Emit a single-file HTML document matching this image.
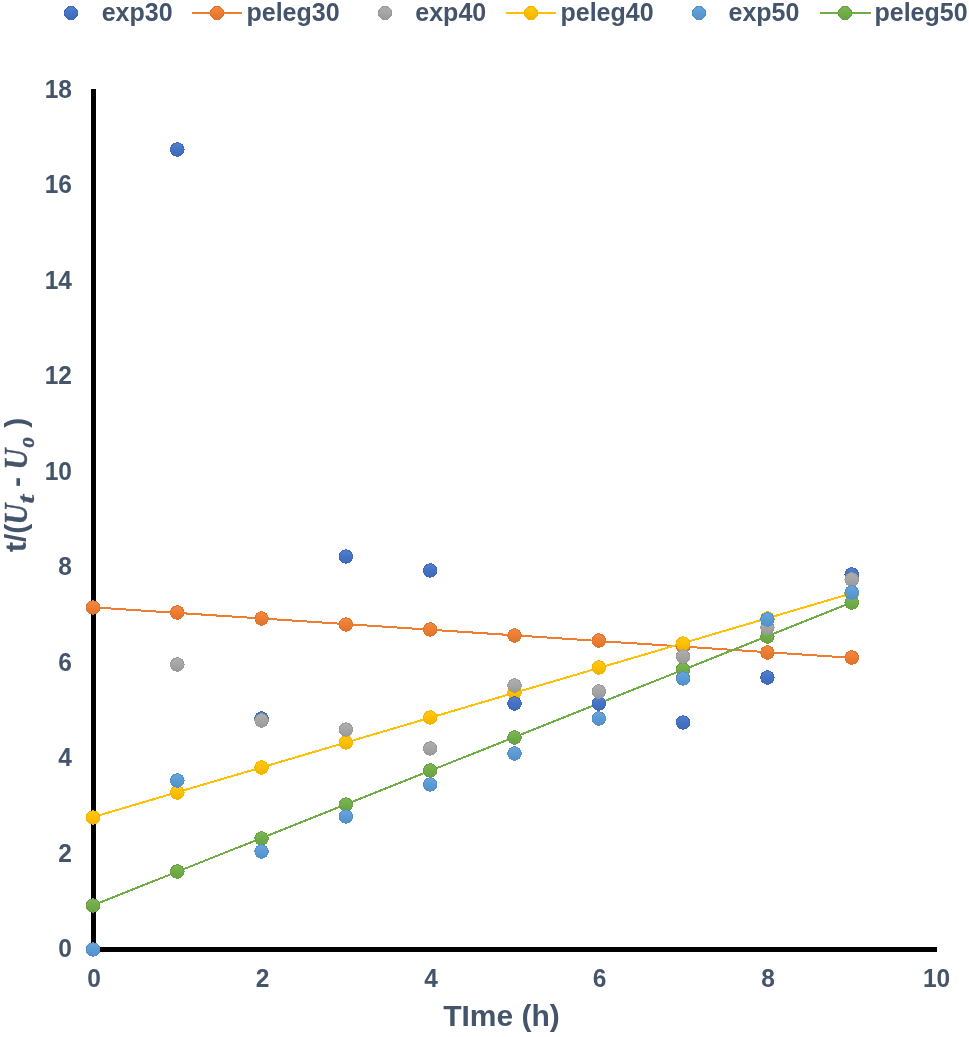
<!DOCTYPE html>
<html><head><meta charset="utf-8"><title>Chart</title>
<style>
html,body{margin:0;padding:0;background:#fff;}
body{width:969px;height:1037px;overflow:hidden;}
svg{display:block;}
.t{font-family:"Liberation Sans",Arial,sans-serif;font-weight:bold;fill:#44546A;}
.m{font-family:"Liberation Serif","Times New Roman",serif;font-weight:bold;font-style:italic;stroke:#44546A;stroke-width:0.4px;}
</style></head>
<body>
<svg width="969" height="1037" viewBox="0 0 969 1037">
<defs><linearGradient id="g_exp30" x1="0" y1="0" x2="0" y2="1"><stop offset="0" stop-color="#5780CA"/><stop offset="0.5" stop-color="#4472C4"/><stop offset="1" stop-color="#3F6AB6"/></linearGradient><linearGradient id="g_peleg30" x1="0" y1="0" x2="0" y2="1"><stop offset="0" stop-color="#EF8A46"/><stop offset="0.5" stop-color="#ED7D31"/><stop offset="1" stop-color="#DC742E"/></linearGradient><linearGradient id="g_exp40" x1="0" y1="0" x2="0" y2="1"><stop offset="0" stop-color="#AEAEAE"/><stop offset="0.5" stop-color="#A5A5A5"/><stop offset="1" stop-color="#999999"/></linearGradient><linearGradient id="g_peleg40" x1="0" y1="0" x2="0" y2="1"><stop offset="0" stop-color="#FFC61A"/><stop offset="0.5" stop-color="#FFC000"/><stop offset="1" stop-color="#EDB300"/></linearGradient><linearGradient id="g_exp50" x1="0" y1="0" x2="0" y2="1"><stop offset="0" stop-color="#6BA5D9"/><stop offset="0.5" stop-color="#5B9BD5"/><stop offset="1" stop-color="#5590C6"/></linearGradient><linearGradient id="g_peleg50" x1="0" y1="0" x2="0" y2="1"><stop offset="0" stop-color="#7EB559"/><stop offset="0.5" stop-color="#70AD47"/><stop offset="1" stop-color="#68A142"/></linearGradient></defs>
<rect width="969" height="1037" fill="#fff"/>
<g class="t" font-size="25">
<circle cx="71" cy="13" r="6.5" fill="url(#g_exp30)" stroke="#3F69B5" stroke-width="1" shape-rendering="crispEdges"/>
<text x="101.7" y="20.6">exp30</text>
<line x1="192" y1="13" x2="242" y2="13" stroke="#ED7D31" stroke-width="2"/>
<circle cx="217" cy="13" r="6.5" fill="url(#g_peleg30)" stroke="#E0742C" stroke-width="1" shape-rendering="crispEdges"/>
<text x="246.5" y="20.6">peleg30</text>
<circle cx="385" cy="13" r="6.5" fill="url(#g_exp40)" stroke="#9A9A9A" stroke-width="1" shape-rendering="crispEdges"/>
<text x="415.3" y="20.6">exp40</text>
<line x1="506" y1="13" x2="556" y2="13" stroke="#FFC000" stroke-width="2"/>
<circle cx="531" cy="13" r="6.5" fill="url(#g_peleg40)" stroke="#F2B600" stroke-width="1" shape-rendering="crispEdges"/>
<text x="560.5" y="20.6">peleg40</text>
<circle cx="699" cy="13" r="6.5" fill="url(#g_exp50)" stroke="#5390C8" stroke-width="1" shape-rendering="crispEdges"/>
<text x="728.5" y="20.6">exp50</text>
<line x1="820" y1="13" x2="871" y2="13" stroke="#70AD47" stroke-width="2"/>
<circle cx="845" cy="13" r="6.5" fill="url(#g_peleg50)" stroke="#68A242" stroke-width="1" shape-rendering="crispEdges"/>
<text x="874.5" y="20.6">peleg50</text>
</g>
<rect x="91" y="89" width="5" height="863" fill="#000"/>
<rect x="91" y="947" width="846" height="5" fill="#000"/>
<g class="t" font-size="24.5">
<text transform="translate(72,957.1) scale(1,1.04)" text-anchor="end">0</text>
<text transform="translate(72,861.6) scale(1,1.04)" text-anchor="end">2</text>
<text transform="translate(72,766.1) scale(1,1.04)" text-anchor="end">4</text>
<text transform="translate(72,670.7) scale(1,1.04)" text-anchor="end">6</text>
<text transform="translate(72,575.2) scale(1,1.04)" text-anchor="end">8</text>
<text transform="translate(72,479.7) scale(1,1.04)" text-anchor="end">10</text>
<text transform="translate(72,384.2) scale(1,1.04)" text-anchor="end">12</text>
<text transform="translate(72,288.7) scale(1,1.04)" text-anchor="end">14</text>
<text transform="translate(72,193.3) scale(1,1.04)" text-anchor="end">16</text>
<text transform="translate(72,97.8) scale(1,1.04)" text-anchor="end">18</text>
<text transform="translate(94.0,986.6) scale(1,1.04)" text-anchor="middle">0</text>
<text transform="translate(262.5,986.6) scale(1,1.04)" text-anchor="middle">2</text>
<text transform="translate(431.0,986.6) scale(1,1.04)" text-anchor="middle">4</text>
<text transform="translate(599.6,986.6) scale(1,1.04)" text-anchor="middle">6</text>
<text transform="translate(768.1,986.6) scale(1,1.04)" text-anchor="middle">8</text>
<text transform="translate(936.6,986.6) scale(1,1.04)" text-anchor="middle">10</text>
</g>
<g class="t" font-size="30"><text x="501.5" y="1025.8" text-anchor="middle">TIme (h)</text></g>
<text class="t" transform="translate(26,552) rotate(-90)"><tspan x="0.00" y="0" font-size="30">t/(</tspan><tspan class="m" x="27.40" y="1" font-size="34" textLength="20.87" lengthAdjust="spacingAndGlyphs">U</tspan><tspan class="m" x="48.60" y="8.3" font-size="24" textLength="8.67" lengthAdjust="spacingAndGlyphs">t</tspan><tspan x="56.67" y="0" font-size="30"> - </tspan><tspan class="m" x="82.40" y="1" font-size="34" textLength="20.87" lengthAdjust="spacingAndGlyphs">U</tspan><tspan class="m" x="104.50" y="8.3" font-size="24" textLength="10.56" lengthAdjust="spacingAndGlyphs">o</tspan><tspan x="115.87" y="0" font-size="30"> )</tspan></text>
</g>
<polyline points="93.0,607.3 177.3,612.9 261.6,618.5 345.9,624.1 430.2,629.7 514.5,635.3 598.8,641.0 683.1,646.6 767.4,652.2 851.7,657.8" fill="none" stroke="#ED7D31" stroke-width="2" shape-rendering="crispEdges"/>
<circle cx="93.0" cy="607.5" r="6.75" fill="url(#g_peleg30)" stroke="#E0742C" stroke-width="1" shape-rendering="crispEdges"/>
<circle cx="177.3" cy="612.5" r="6.75" fill="url(#g_peleg30)" stroke="#E0742C" stroke-width="1" shape-rendering="crispEdges"/>
<circle cx="261.6" cy="618.5" r="6.75" fill="url(#g_peleg30)" stroke="#E0742C" stroke-width="1" shape-rendering="crispEdges"/>
<circle cx="345.9" cy="624.5" r="6.75" fill="url(#g_peleg30)" stroke="#E0742C" stroke-width="1" shape-rendering="crispEdges"/>
<circle cx="430.2" cy="629.5" r="6.75" fill="url(#g_peleg30)" stroke="#E0742C" stroke-width="1" shape-rendering="crispEdges"/>
<circle cx="514.5" cy="635.5" r="6.75" fill="url(#g_peleg30)" stroke="#E0742C" stroke-width="1" shape-rendering="crispEdges"/>
<circle cx="598.8" cy="640.5" r="6.75" fill="url(#g_peleg30)" stroke="#E0742C" stroke-width="1" shape-rendering="crispEdges"/>
<circle cx="683.1" cy="646.5" r="6.75" fill="url(#g_peleg30)" stroke="#E0742C" stroke-width="1" shape-rendering="crispEdges"/>
<circle cx="767.4" cy="652.5" r="6.75" fill="url(#g_peleg30)" stroke="#E0742C" stroke-width="1" shape-rendering="crispEdges"/>
<circle cx="851.7" cy="657.5" r="6.75" fill="url(#g_peleg30)" stroke="#E0742C" stroke-width="1" shape-rendering="crispEdges"/>
<polyline points="93.0,817.1 177.3,792.2 261.6,767.4 345.9,742.5 430.2,717.7 514.5,692.8 598.8,668.0 683.1,643.1 767.4,618.2 851.7,593.4" fill="none" stroke="#FFC000" stroke-width="2" shape-rendering="crispEdges"/>
<circle cx="93.0" cy="817.5" r="6.75" fill="url(#g_peleg40)" stroke="#F2B600" stroke-width="1" shape-rendering="crispEdges"/>
<circle cx="177.3" cy="792.5" r="6.75" fill="url(#g_peleg40)" stroke="#F2B600" stroke-width="1" shape-rendering="crispEdges"/>
<circle cx="261.6" cy="767.5" r="6.75" fill="url(#g_peleg40)" stroke="#F2B600" stroke-width="1" shape-rendering="crispEdges"/>
<circle cx="345.9" cy="742.5" r="6.75" fill="url(#g_peleg40)" stroke="#F2B600" stroke-width="1" shape-rendering="crispEdges"/>
<circle cx="430.2" cy="717.5" r="6.75" fill="url(#g_peleg40)" stroke="#F2B600" stroke-width="1" shape-rendering="crispEdges"/>
<circle cx="514.5" cy="692.5" r="6.75" fill="url(#g_peleg40)" stroke="#F2B600" stroke-width="1" shape-rendering="crispEdges"/>
<circle cx="598.8" cy="667.5" r="6.75" fill="url(#g_peleg40)" stroke="#F2B600" stroke-width="1" shape-rendering="crispEdges"/>
<circle cx="683.1" cy="643.5" r="6.75" fill="url(#g_peleg40)" stroke="#F2B600" stroke-width="1" shape-rendering="crispEdges"/>
<circle cx="767.4" cy="618.5" r="6.75" fill="url(#g_peleg40)" stroke="#F2B600" stroke-width="1" shape-rendering="crispEdges"/>
<circle cx="851.7" cy="593.5" r="6.75" fill="url(#g_peleg40)" stroke="#F2B600" stroke-width="1" shape-rendering="crispEdges"/>
<polyline points="93.0,905.3 177.3,871.7 261.6,838.0 345.9,804.4 430.2,770.7 514.5,737.1 598.8,703.4 683.1,669.8 767.4,636.1 851.7,602.5" fill="none" stroke="#70AD47" stroke-width="2" shape-rendering="crispEdges"/>
<circle cx="93.0" cy="905.5" r="6.75" fill="url(#g_peleg50)" stroke="#68A242" stroke-width="1" shape-rendering="crispEdges"/>
<circle cx="177.3" cy="871.5" r="6.75" fill="url(#g_peleg50)" stroke="#68A242" stroke-width="1" shape-rendering="crispEdges"/>
<circle cx="261.6" cy="838.5" r="6.75" fill="url(#g_peleg50)" stroke="#68A242" stroke-width="1" shape-rendering="crispEdges"/>
<circle cx="345.9" cy="804.5" r="6.75" fill="url(#g_peleg50)" stroke="#68A242" stroke-width="1" shape-rendering="crispEdges"/>
<circle cx="430.2" cy="770.5" r="6.75" fill="url(#g_peleg50)" stroke="#68A242" stroke-width="1" shape-rendering="crispEdges"/>
<circle cx="514.5" cy="737.5" r="6.75" fill="url(#g_peleg50)" stroke="#68A242" stroke-width="1" shape-rendering="crispEdges"/>
<circle cx="598.8" cy="703.5" r="6.75" fill="url(#g_peleg50)" stroke="#68A242" stroke-width="1" shape-rendering="crispEdges"/>
<circle cx="683.1" cy="669.5" r="6.75" fill="url(#g_peleg50)" stroke="#68A242" stroke-width="1" shape-rendering="crispEdges"/>
<circle cx="767.4" cy="636.5" r="6.75" fill="url(#g_peleg50)" stroke="#68A242" stroke-width="1" shape-rendering="crispEdges"/>
<circle cx="851.7" cy="602.5" r="6.75" fill="url(#g_peleg50)" stroke="#68A242" stroke-width="1" shape-rendering="crispEdges"/>
<circle cx="177.3" cy="149.5" r="6.75" fill="url(#g_exp30)" stroke="#3F69B5" stroke-width="1" shape-rendering="crispEdges"/>
<circle cx="261.6" cy="718.5" r="6.75" fill="url(#g_exp30)" stroke="#3F69B5" stroke-width="1" shape-rendering="crispEdges"/>
<circle cx="345.9" cy="556.5" r="6.75" fill="url(#g_exp30)" stroke="#3F69B5" stroke-width="1" shape-rendering="crispEdges"/>
<circle cx="430.2" cy="570.5" r="6.75" fill="url(#g_exp30)" stroke="#3F69B5" stroke-width="1" shape-rendering="crispEdges"/>
<circle cx="514.5" cy="703.5" r="6.75" fill="url(#g_exp30)" stroke="#3F69B5" stroke-width="1" shape-rendering="crispEdges"/>
<circle cx="598.8" cy="703.5" r="6.75" fill="url(#g_exp30)" stroke="#3F69B5" stroke-width="1" shape-rendering="crispEdges"/>
<circle cx="683.1" cy="722.5" r="6.75" fill="url(#g_exp30)" stroke="#3F69B5" stroke-width="1" shape-rendering="crispEdges"/>
<circle cx="767.4" cy="677.5" r="6.75" fill="url(#g_exp30)" stroke="#3F69B5" stroke-width="1" shape-rendering="crispEdges"/>
<circle cx="851.7" cy="574.5" r="6.75" fill="url(#g_exp30)" stroke="#3F69B5" stroke-width="1" shape-rendering="crispEdges"/>
<circle cx="177.3" cy="664.5" r="6.75" fill="url(#g_exp40)" stroke="#9A9A9A" stroke-width="1" shape-rendering="crispEdges"/>
<circle cx="261.6" cy="720.5" r="6.75" fill="url(#g_exp40)" stroke="#9A9A9A" stroke-width="1" shape-rendering="crispEdges"/>
<circle cx="345.9" cy="729.5" r="6.75" fill="url(#g_exp40)" stroke="#9A9A9A" stroke-width="1" shape-rendering="crispEdges"/>
<circle cx="430.2" cy="748.5" r="6.75" fill="url(#g_exp40)" stroke="#9A9A9A" stroke-width="1" shape-rendering="crispEdges"/>
<circle cx="514.5" cy="685.5" r="6.75" fill="url(#g_exp40)" stroke="#9A9A9A" stroke-width="1" shape-rendering="crispEdges"/>
<circle cx="598.8" cy="691.5" r="6.75" fill="url(#g_exp40)" stroke="#9A9A9A" stroke-width="1" shape-rendering="crispEdges"/>
<circle cx="683.1" cy="656.5" r="6.75" fill="url(#g_exp40)" stroke="#9A9A9A" stroke-width="1" shape-rendering="crispEdges"/>
<circle cx="767.4" cy="627.5" r="6.75" fill="url(#g_exp40)" stroke="#9A9A9A" stroke-width="1" shape-rendering="crispEdges"/>
<circle cx="851.7" cy="579.5" r="6.75" fill="url(#g_exp40)" stroke="#9A9A9A" stroke-width="1" shape-rendering="crispEdges"/>
<circle cx="93.0" cy="949.5" r="6.75" fill="url(#g_exp50)" stroke="#5390C8" stroke-width="1" shape-rendering="crispEdges"/>
<circle cx="177.3" cy="780.5" r="6.75" fill="url(#g_exp50)" stroke="#5390C8" stroke-width="1" shape-rendering="crispEdges"/>
<circle cx="261.6" cy="851.5" r="6.75" fill="url(#g_exp50)" stroke="#5390C8" stroke-width="1" shape-rendering="crispEdges"/>
<circle cx="345.9" cy="816.5" r="6.75" fill="url(#g_exp50)" stroke="#5390C8" stroke-width="1" shape-rendering="crispEdges"/>
<circle cx="430.2" cy="784.5" r="6.75" fill="url(#g_exp50)" stroke="#5390C8" stroke-width="1" shape-rendering="crispEdges"/>
<circle cx="514.5" cy="753.5" r="6.75" fill="url(#g_exp50)" stroke="#5390C8" stroke-width="1" shape-rendering="crispEdges"/>
<circle cx="598.8" cy="718.5" r="6.75" fill="url(#g_exp50)" stroke="#5390C8" stroke-width="1" shape-rendering="crispEdges"/>
<circle cx="683.1" cy="678.5" r="6.75" fill="url(#g_exp50)" stroke="#5390C8" stroke-width="1" shape-rendering="crispEdges"/>
<circle cx="767.4" cy="619.5" r="6.75" fill="url(#g_exp50)" stroke="#5390C8" stroke-width="1" shape-rendering="crispEdges"/>
<circle cx="851.7" cy="592.5" r="6.75" fill="url(#g_exp50)" stroke="#5390C8" stroke-width="1" shape-rendering="crispEdges"/>
</svg>
</body></html>
